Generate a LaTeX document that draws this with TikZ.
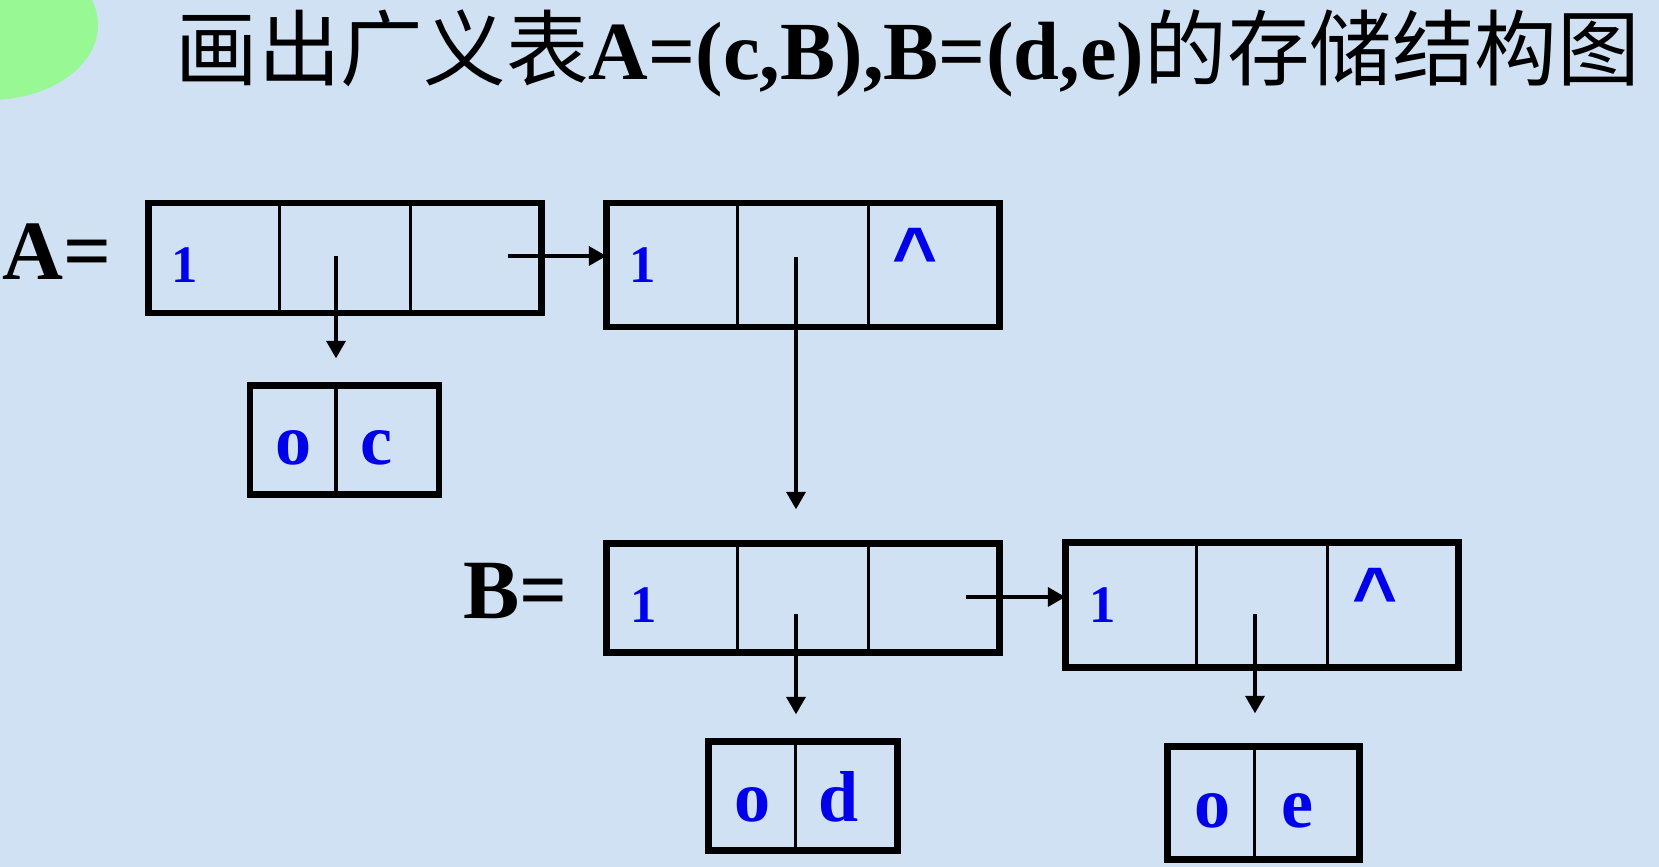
\documentclass[tikz,border=0pt]{standalone}
\usepackage{fontspec}
\setmainfont{Liberation Serif}
\newfontfamily\cjk{Noto Sans CJK SC}
\newfontfamily\caretfont{Liberation Sans}
\usetikzlibrary{arrows.meta,positioning,fit}
\definecolor{slidebg}{RGB}{208,225,243}
\definecolor{blob}{RGB}{152,248,148}
\definecolor{valblue}{RGB}{0,0,235}
\tikzset{
  cell/.style={draw, line width=0.95pt, minimum width=1.31cm, inner sep=0pt, outer sep=0pt},
  frame/.style={draw, line width=1.9pt, inner sep=0pt, outer sep=0pt},
  val/.style={text=valblue, anchor=base, inner sep=0pt, font=\bfseries\fontsize{15}{15}\selectfont},
  atom/.style={text=valblue, anchor=base, inner sep=0pt, font=\bfseries\fontsize{20.5}{20.5}\selectfont},
  nil/.style={text=valblue, inner sep=0pt, font=\caretfont\bfseries\fontsize{22}{22}\selectfont},
  head/.style={anchor=base west, inner sep=0pt, font=\bfseries\fontsize{24}{24}\selectfont},
  link/.style={line width=1.3pt, -{Triangle[length=5pt,width=5.3pt]}},
}
\begin{document}
\begin{tikzpicture}[x=0.01cm, y=-0.01cm, line join=miter]
	\useasboundingbox (0,0) rectangle (1659,867);
	\fill[slidebg] (0,0) rectangle (1659,867);
	\fill[blob] (-10,25) ellipse [x radius=108, y radius=75];
	% title
	\node[anchor=base west, inner sep=0pt, font=\fontsize{23.5}{23.5}\selectfont] (title) at (175,80)
	{{\cjk 画出广义表}\textbf{A=(c,B),B=(d,e)}{\cjk 的存储结构图}};
	% list A
	\node[head] (Aname) at (2,280) {A=};
	\node[cell, minimum height=1.1cm] (A1a) at (214,258) {};
	\node[cell, minimum height=1.1cm, right=0pt of A1a] (A1b) {};
	\node[cell, minimum height=1.1cm, right=0pt of A1b] (A1c) {};
	\node[frame, fit=(A1a)(A1c)] (A1) {};
	\node[val] (A1tag) at (185,283) {1};
	\node[cell, minimum height=1.24cm] (A2a) at (672,265) {};
	\node[cell, minimum height=1.24cm, right=0pt of A2a] (A2b) {};
	\node[cell, minimum height=1.24cm, right=0pt of A2b] (A2c) {};
	\node[frame, fit=(A2a)(A2c)] (A2) {};
	\node[val] (A2tag) at (643,283) {1};
	\node[nil] (A2nil) at (915,255) {\^{}};
	% atom c
	\node[cell, minimum width=0.86cm, minimum height=1.09cm] (oca) at (293,440) {};
	\node[cell, minimum width=1.03cm, minimum height=1.09cm, right=0pt of oca] (ocb) {};
	\node[frame, fit=(oca)(ocb)] (oc) {};
	\node[atom] (octag) at (294,465) {o};
	\node[atom] (ocval) at (376,465) {c};
	% list B
	\node[head] (Bname) at (463,619) {B=};
	\node[cell, minimum height=1.09cm] (B1a) at (672,598) {};
	\node[cell, minimum height=1.09cm, right=0pt of B1a] (B1b) {};
	\node[cell, minimum height=1.09cm, right=0pt of B1b] (B1c) {};
	\node[frame, fit=(B1a)(B1c)] (B1) {};
	\node[val] (B1tag) at (644,623) {1};
	\node[cell, minimum height=1.25cm] (B2a) at (1131,605) {};
	\node[cell, minimum height=1.25cm, right=0pt of B2a] (B2b) {};
	\node[cell, minimum height=1.25cm, right=0pt of B2b] (B2c) {};
	\node[frame, fit=(B2a)(B2c)] (B2) {};
	\node[val] (B2tag) at (1103,623) {1};
	\node[nil] (B2nil) at (1375,595) {\^{}};
	% atoms d and e
	\node[cell, minimum width=0.87cm, minimum height=1.09cm] (oda) at (752,796) {};
	\node[cell, minimum width=1.02cm, minimum height=1.09cm, right=0pt of oda] (odb) {};
	\node[frame, fit=(oda)(odb)] (od) {};
	\node[atom] (odtag) at (753,822) {o};
	\node[atom] (odval) at (839,822) {d};
	\node[cell, minimum width=0.87cm, minimum height=1.13cm] (oea) at (1211,803) {};
	\node[cell, minimum width=1.05cm, minimum height=1.13cm, right=0pt of oea] (oeb) {};
	\node[frame, fit=(oea)(oeb)] (oe) {};
	\node[atom] (oetag) at (1213,828) {o};
	\node[atom] (oeval) at (1297,828) {e};
	% pointers
	\coordinate (A1hp) at (336,256);
	\coordinate (A1tp) at (508,256);
	\coordinate (A2hp) at (796,257);
	\coordinate (B1hp) at (796,614);
	\coordinate (B1tp) at (966,597);
	\coordinate (B2hp) at (1255,614);
	\draw[link, shorten >=0.27cm] (A1hp) -- (A1hp |- oc.north);
	\draw[link] (A1tp) -- (A1tp -| A2.west);
	\draw[link, shorten >=0.34cm] (A2hp) -- (A2hp |- B1.north);
	\draw[link, shorten >=0.27cm] (B1hp) -- (B1hp |- od.north);
	\draw[link] (B1tp) -- (B1tp -| B2.west);
	\draw[link, shorten >=0.33cm] (B2hp) -- (B2hp |- oe.north);
\end{tikzpicture}
\end{document}
